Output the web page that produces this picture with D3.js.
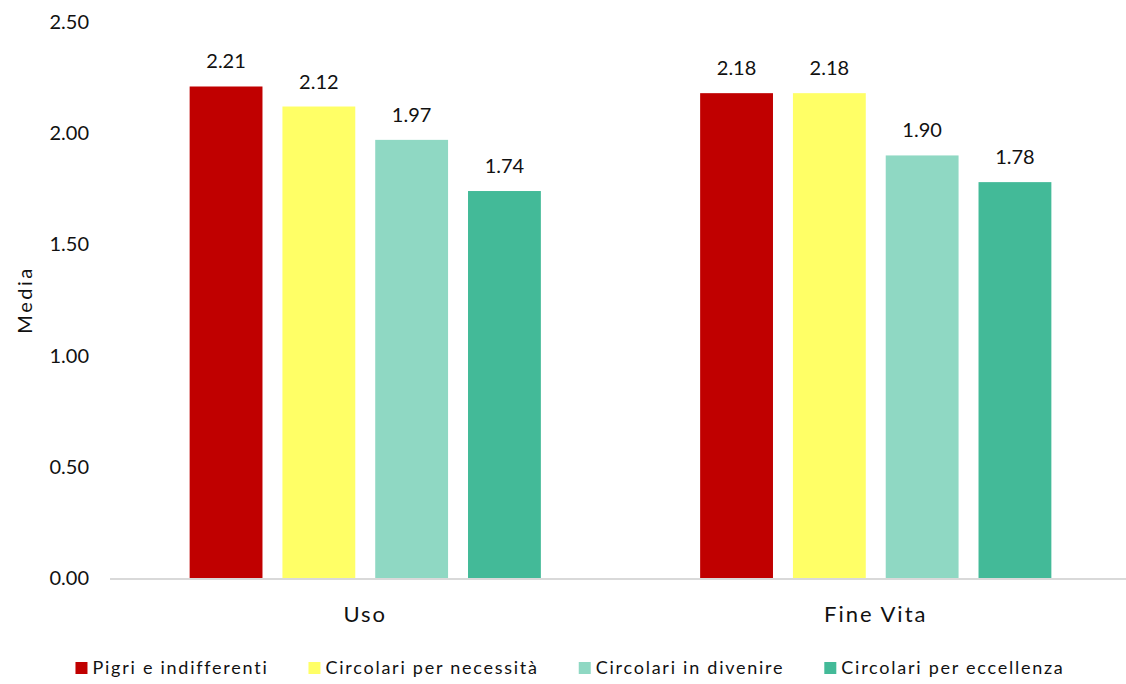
<!DOCTYPE html>
<html>
<head>
<meta charset="utf-8">
<script src="https://cdn.jsdelivr.net/npm/d3@7"></script>
<style>
  body { margin: 0; background: #fff; }
  svg { display: block; font-family: Lato, "Open Sans", sans-serif; }
</style>
</head>
<body>
<svg id="chart" width="1126" height="684"></svg>
<script>
// data
const categories = ["Uso", "Fine Vita"];
const seriesNames = ["Pigri e indifferenti", "Circolari per necessità", "Circolari in divenire", "Circolari per eccellenza"];
const seriesColors = ["#C00000", "#FFFF66", "#8FD8C3", "#43BA98"];
const pigri = [2.21, 2.18];
const necessita = [2.12, 2.18];
const divenire = [1.97, 1.90];
const eccellenza = [1.74, 1.78];
const yTicks = [0, 0.5, 1, 1.5, 2, 2.5];

const seriesValues = [pigri, necessita, divenire, eccellenza];

const svg = d3.select("#chart"),
	width = +svg.attr("width"),
	height = +svg.attr("height");

const margin = {left: 110, right: -5, top: 22, bottom: 106};

const x0 = d3.scaleBand()
	.domain(categories)
	.range([margin.left, width - margin.right])
	.paddingInner(0.312)
	.paddingOuter(0.156);

const x1 = d3.scaleBand()
	.domain(seriesNames)
	.range([0, x0.bandwidth()])
	.paddingInner(0.215);

const y = d3.scaleLinear()
	.domain([0, 2.5])
	.range([height - margin.bottom, margin.top]);

// y tick labels (no gridlines in the original)
svg.append("g")
	.selectAll("text")
	.data(yTicks)
	.enter().append("text")
	.attr("x", 89)
	.attr("y", d => y(d))
	.attr("dy", "0.35em")
	.attr("text-anchor", "end")
	.attr("font-size", 20)
	.attr("fill", "#111")
	.text(d => d3.format(".2f")(d));

// y title
svg.append("text")
	.attr("transform", `translate(32, ${(y(0) + y(2.5)) / 2}) rotate(-90)`)
	.attr("text-anchor", "middle")
	.attr("font-size", 20)
	.attr("letter-spacing", 2.5)
	.attr("fill", "#111")
	.text("Media");

// bars
const groups = svg.append("g")
	.selectAll("g")
	.data(categories)
	.enter().append("g")
	.attr("transform", d => `translate(${x0(d)},0)`);

groups.selectAll("rect")
	.data((c, i) => seriesNames.map((s, j) => ({s, j, v: seriesValues[j][i]})))
	.enter().append("rect")
	.attr("x", d => x1(d.s))
	.attr("y", d => y(d.v))
	.attr("width", x1.bandwidth())
	.attr("height", d => y(0) - y(d.v))
	.attr("fill", d => seriesColors[d.j]);

groups.selectAll("text")
	.data((c, i) => seriesNames.map((s, j) => ({s, j, v: seriesValues[j][i]})))
	.enter().append("text")
	.attr("x", d => x1(d.s) + x1.bandwidth() / 2)
	.attr("y", d => y(d.v) - 18)
	.attr("text-anchor", "middle")
	.attr("font-size", 20)
	.attr("fill", "#111")
	.text(d => d3.format(".2f")(d.v));

// x axis line
svg.append("line")
	.attr("x1", margin.left)
	.attr("x2", width)
	.attr("y1", y(0) + 1)
	.attr("y2", y(0) + 1)
	.attr("stroke", "#D9D9D9")
	.attr("stroke-width", 2);

// category labels
svg.append("g")
	.selectAll("text")
	.data(categories)
	.enter().append("text")
	.attr("x", d => x0(d) + x0.bandwidth() / 2)
	.attr("y", 622)
	.attr("text-anchor", "middle")
	.attr("font-size", 22)
	.attr("letter-spacing", 2)
	.attr("fill", "#111")
	.text(d => d);

// legend
const legend = svg.append("g");
const items = legend.selectAll("g")
	.data(seriesNames)
	.enter().append("g");

items.append("rect")
	.attr("width", 12)
	.attr("height", 12)
	.attr("y", 662)
	.attr("fill", (d, i) => seriesColors[i]);

items.append("text")
	.attr("x", 17)
	.attr("y", 674)
	.attr("font-size", 18)
	.attr("letter-spacing", 1.75)
	.attr("fill", "#111")
	.text(d => d);

// lay out legend items in a row, centred
let offset = 0;
const widths = [];
items.each(function() {
	const w = 17 + d3.select(this).select("text").node().getComputedTextLength();
	widths.push(w);
});
const gap = 40;
const total = d3.sum(widths) + gap * (widths.length - 1);
let start = 570 - total / 2;
items.attr("transform", (d, i) => {
	const t = `translate(${start + offset},0)`;
	offset += widths[i] + gap;
	return t;
});
</script>
</body>
</html>
